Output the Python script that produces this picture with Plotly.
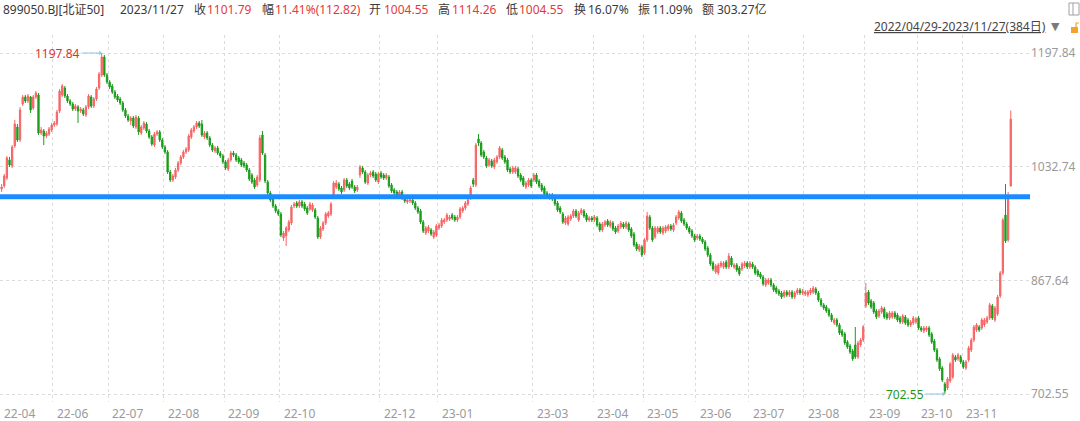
import plotly.graph_objects as go

# ---------------- data (899050.BJ 北证50, daily, 2022/04/29 - 2023/11/27) ----------------
opens = [
    # 2022-04 / 05
    1000.3, 1004.7, 1016.3, 1042.5, 1033.8, 1062.8, 1090.3, 1071.5, 1123.8, 1133.9,
    1128.1, 1133.9, 1118.0, 1133.9, 1136.8, 1081.6, 1084.5, 1077.3, 1080.2, 1086.0,
    # 2022-06
    1093.3, 1094.7, 1113.6, 1136.8, 1147.0, 1135.4, 1128.1, 1123.8, 1116.5, 1119.4,
    1113.6, 1115.1, 1107.8, 1119.4, 1133.9, 1120.9, 1131.0, 1147.0, 1165.9, 1192.0, 1165.9,
    # 2022-07
    1155.7, 1149.9, 1141.2, 1135.4, 1131.0, 1125.2, 1115.1, 1106.3, 1099.1, 1103.4,
    1090.3, 1103.4, 1081.6, 1088.9, 1094.7, 1084.5, 1075.9, 1064.2, 1080.2, 1083.1, 1071.5,
    # 2022-08
    1061.3, 1054.1, 1025.0, 1013.4, 1017.8, 1027.9, 1038.1, 1046.8, 1054.1, 1057.0,
    1075.9, 1084.5, 1090.3, 1096.2, 1094.7, 1075.9, 1081.6, 1074.4, 1064.2, 1055.5,
    1059.9, 1052.6, 1048.3,
    # 2022-09
    1039.6, 1029.4, 1042.5, 1052.6, 1049.7, 1045.4, 1042.5, 1038.1, 1035.2, 1027.9,
    1020.6, 1013.4, 1006.1, 1013.4, 1078.7, 1049.7, 1010.5, 994.5, 985.8, 975.6, 968.4,
    # 2022-10
    964.0, 929.2, 932.1, 940.8, 950.9, 975.6, 980.0, 975.6, 981.5, 978.5,
    972.7, 971.3, 969.8, 969.8, 958.2, 930.6,
    # 2022-11
    942.2, 950.9, 961.1, 964.0, 990.2, 1003.2, 1007.6, 1001.8, 998.9, 1013.4,
    1007.6, 1011.9, 1003.2, 998.9, 1020.6, 1030.9, 1025.0, 1009.0, 1020.6, 1025.0,
    1022.1, 1010.5,
    # 2022-12
    1023.5, 1020.6, 1016.3, 1017.7, 1006.1, 998.9, 996.0, 991.6, 996.0, 987.3,
    981.5, 982.9, 984.4, 980.0, 972.7, 968.4, 952.4, 936.4, 939.3, 940.8,
    930.6, 933.5,
    # 2023-01
    943.7, 946.6, 952.4, 955.3, 956.7, 962.5, 959.6, 955.3, 959.6, 968.4,
    972.7, 978.5, 987.3, 1013.4, 1006.1, 1073.0,
    # 2023-02
    1067.1, 1054.1, 1045.4, 1035.2, 1041.0, 1032.3, 1039.6, 1046.8, 1057.0, 1046.8,
    1042.5, 1029.4, 1025.0, 1025.0, 1029.4, 1020.6, 1016.3, 1003.2, 1006.1, 1013.4,
    # 2023-03
    1013.4, 1020.6, 1011.9, 1006.1, 1001.8, 994.5, 987.3, 991.6, 987.3, 980.0,
    972.7, 964.0, 950.9, 949.5, 956.7, 961.1, 968.4, 955.3, 965.5, 968.4,
    962.5, 955.3, 958.2,
    # 2023-04
    955.3, 958.2, 949.5, 940.8, 948.0, 953.8, 946.6, 950.9, 943.7, 939.3,
    945.1, 949.5, 945.1, 949.5, 942.2, 935.0, 920.5, 911.7, 916.1,
    # 2023-05
    907.4, 926.3, 959.6, 943.7, 930.6, 937.9, 943.7, 936.4, 939.3, 942.2,
    946.6, 940.8, 950.9, 958.2, 965.5, 955.3, 949.5, 943.7, 939.3, 932.1,
    # 2023-06
    929.2, 932.1, 927.7, 923.4, 914.6, 904.5, 892.8, 879.8, 878.4, 888.5,
    887.0, 894.3, 887.0, 900.1, 887.0, 890.0, 885.6, 884.1, 888.5, 892.8,
    # 2023-07
    887.0, 891.4, 887.0, 881.2, 876.9, 872.5, 860.9, 863.8, 868.2, 860.9,
    856.5, 852.2, 849.3, 844.9, 850.7, 846.4, 850.7, 843.5, 849.3, 853.6, 849.3,
    # 2023-08
    847.8, 846.4, 849.3, 850.7, 855.1, 849.3, 839.1, 831.9, 829.0, 824.6,
    817.3, 805.7, 810.1, 802.8, 794.1, 789.8, 778.1, 772.3, 765.1, 773.8,
    756.4, 773.8, 781.0,
    # 2023-09
    830.4, 850.7, 837.7, 834.8, 823.2, 815.9, 821.7, 826.1, 818.8, 813.0,
    814.4, 820.3, 817.3, 813.0, 807.2, 814.4, 810.1, 802.8, 805.7, 807.2,
    # 2023-10
    813.0, 798.5, 794.1, 795.6, 798.5, 789.8, 779.6, 766.5, 753.5, 740.4,
    717.1, 711.3, 721.5, 727.3, 756.4, 753.5, 756.4,
    # 2023-11
    749.1, 740.4, 752.0, 766.5, 781.0, 795.6, 799.9, 798.5, 802.8, 807.2,
    813.0, 830.4, 810.1, 818.8, 844.9, 878.4, 962.5, 926.3, 1004.55,
]

closes = [
    1003.2, 1019.2, 1045.4, 1035.2, 1061.3, 1094.7, 1071.5, 1115.1, 1133.9, 1128.1,
    1135.4, 1115.1, 1133.9, 1139.8, 1081.6, 1086.0, 1077.3, 1081.6, 1087.4, 1093.3,
    1096.2, 1112.2, 1142.7, 1149.9, 1135.4, 1128.1, 1123.8, 1116.5, 1120.9, 1113.6,
    1116.5, 1109.3, 1119.4, 1135.4, 1120.9, 1131.0, 1145.6, 1167.3, 1192.0, 1165.9, 1155.7,
    1148.5, 1141.2, 1133.9, 1129.6, 1125.2, 1115.1, 1106.3, 1100.5, 1103.4, 1091.8,
    1104.9, 1083.1, 1090.3, 1096.2, 1084.5, 1075.9, 1065.7, 1080.2, 1083.1, 1071.5, 1061.3,
    1054.1, 1025.0, 1013.4, 1019.2, 1027.9, 1038.1, 1046.8, 1054.1, 1058.4, 1077.3,
    1086.0, 1090.3, 1096.2, 1091.8, 1078.7, 1081.6, 1074.4, 1064.2, 1057.0, 1059.9,
    1052.6, 1048.3, 1039.6,
    1030.9, 1042.5, 1052.6, 1049.7, 1042.5, 1039.6, 1035.2, 1033.8, 1027.9, 1014.8,
    1010.5, 1003.2, 1017.7, 1074.4, 1052.6, 1011.9, 994.5, 984.4, 975.6, 968.4, 964.0,
    933.5, 936.4, 943.7, 952.4, 974.2, 978.5, 975.6, 981.5, 975.6, 971.3,
    965.5, 978.5, 977.1, 959.6, 930.6, 943.7,
    950.9, 964.0, 965.5, 978.5, 1009.0, 1009.0, 1000.3, 996.0, 1013.4, 1004.7,
    1001.8, 1003.2, 997.4, 1003.2, 1032.3, 1025.0, 1010.5, 1020.6, 1023.5, 1019.2,
    1013.4, 1022.1,
    1017.7, 1016.3, 1020.6, 1004.7, 997.4, 994.5, 991.6, 996.0, 987.3, 982.9,
    984.4, 984.4, 980.0, 972.7, 966.9, 952.4, 939.3, 943.7, 945.1, 935.0,
    937.9, 946.6,
    948.0, 955.3, 955.3, 962.5, 959.6, 958.2, 955.3, 959.6, 971.3, 972.7,
    980.0, 984.4, 1001.8, 1007.6, 1064.2, 1067.1,
    1049.7, 1046.8, 1033.8, 1042.5, 1033.8, 1042.5, 1046.8, 1059.9, 1045.4, 1039.6,
    1027.9, 1025.0, 1030.9, 1030.9, 1019.2, 1013.4, 1006.1, 1009.0, 1013.4, 1004.7,
    1020.6, 1010.5, 1004.7, 998.9, 993.1, 988.7, 991.6, 985.8, 978.5, 969.8,
    966.9, 952.4, 958.2, 959.6, 961.1, 968.4, 961.1, 965.5, 969.8, 961.1,
    955.3, 958.2, 955.3,
    959.6, 948.0, 940.8, 949.5, 952.4, 948.0, 952.4, 942.2, 937.9, 946.6,
    950.9, 945.1, 950.9, 940.8, 932.1, 919.0, 913.2, 917.6, 904.5,
    926.3, 961.1, 943.7, 926.3, 943.7, 943.7, 937.9, 943.7, 945.1, 946.6,
    942.2, 948.0, 959.6, 966.9, 953.8, 949.5, 943.7, 937.9, 932.1, 926.3,
    932.1, 927.7, 923.4, 913.2, 904.5, 891.4, 884.1, 888.5, 890.0, 892.8,
    892.8, 887.0, 903.0, 890.0, 890.0, 882.7, 876.9, 891.4, 892.8, 887.0,
    892.8, 887.0, 878.4, 875.4, 872.5, 862.4, 868.2, 868.2, 860.9, 853.6,
    850.7, 847.8, 843.5, 850.7, 846.4, 850.7, 843.5, 849.3, 853.6, 849.3, 852.2,
    850.7, 850.7, 853.6, 856.5, 849.3, 839.1, 831.9, 827.5, 823.2, 817.3,
    810.1, 810.1, 802.8, 791.2, 788.3, 776.7, 770.9, 763.6, 753.5, 756.4,
    776.7, 781.0, 799.9,
    849.3, 834.8, 829.0, 821.7, 814.4, 823.2, 827.5, 814.4, 813.0, 820.3,
    820.3, 814.4, 810.1, 807.2, 815.9, 805.7, 802.8, 807.2, 813.0, 811.5,
    798.5, 795.6, 798.5, 798.5, 788.3, 778.1, 766.5, 752.0, 739.0, 722.9,
    706.9, 724.4, 746.2, 759.3, 752.0, 759.3, 749.1,
    741.9, 749.1, 769.4, 781.0, 799.9, 802.8, 795.6, 810.1, 810.1, 813.0,
    831.9, 813.0, 827.5, 843.5, 878.4, 955.3, 924.8, 988.97, 1101.79,
]

highs = [
    1007.6, 1022.1, 1048.3, 1046.8, 1064.2, 1100.5, 1094.7, 1119.4, 1136.8, 1136.8,
    1138.3, 1135.4, 1136.8, 1142.7, 1139.8, 1090.4, 1087.4, 1084.5, 1090.4, 1096.2,
    1099.1, 1115.1, 1145.6, 1152.8, 1149.9, 1138.3, 1131.0, 1126.7, 1123.8, 1122.3,
    1119.4, 1118.0, 1122.3, 1138.3, 1136.8, 1133.9, 1148.5, 1170.3, 1197.84, 1194.9, 1168.8,
    1158.6, 1152.8, 1144.1, 1138.3, 1133.9, 1128.1, 1118.0, 1109.3, 1106.3, 1106.3,
    1107.8, 1106.3, 1093.3, 1099.1, 1097.6, 1087.4, 1078.7, 1083.1, 1086.0, 1086.0, 1074.4,
    1064.2, 1057.0, 1027.9, 1022.1, 1030.9, 1041.0, 1049.7, 1057.0, 1061.3, 1080.2,
    1088.9, 1093.3, 1099.1, 1099.1, 1100.5, 1084.5, 1084.5, 1077.3, 1067.1, 1062.8,
    1062.8, 1055.5, 1051.1,
    1042.5, 1045.4, 1055.5, 1055.5, 1052.6, 1048.3, 1045.4, 1041.0, 1038.1, 1030.9,
    1023.5, 1016.3, 1020.6, 1078.7, 1084.5, 1052.6, 1013.4, 997.4, 988.7, 978.5, 971.3,
    966.9, 939.3, 946.6, 955.3, 977.1, 981.5, 982.9, 984.4, 984.4, 981.5,
    975.6, 981.5, 980.0, 972.7, 961.1, 946.6,
    953.8, 966.9, 968.4, 981.5, 1011.9, 1013.4, 1010.5, 1004.7, 1016.3, 1016.3,
    1010.5, 1014.8, 1006.1, 1006.1, 1035.2, 1033.8, 1027.9, 1023.5, 1026.5, 1027.9,
    1025.0, 1025.0,
    1026.5, 1023.5, 1023.5, 1020.6, 1009.0, 1001.8, 998.9, 998.9, 998.9, 990.2,
    987.3, 987.3, 987.3, 982.9, 975.6, 971.3, 955.3, 946.6, 948.0, 943.7,
    940.8, 949.5,
    950.9, 958.2, 958.2, 965.5, 962.5, 965.5, 962.5, 962.5, 974.2, 975.6,
    982.9, 987.3, 1004.7, 1016.3, 1067.1, 1080.2,
    1070.0, 1057.0, 1048.3, 1045.4, 1043.9, 1045.4, 1049.7, 1062.8, 1059.9, 1049.7,
    1045.4, 1032.3, 1033.8, 1033.8, 1032.3, 1023.5, 1019.2, 1011.9, 1016.3, 1016.3,
    1023.5, 1023.5, 1014.8, 1009.0, 1004.7, 997.4, 994.5, 994.5, 990.2, 982.9,
    975.6, 966.9, 961.1, 962.5, 964.0, 971.3, 971.3, 968.4, 972.7, 971.3,
    965.5, 961.1, 961.1,
    962.5, 961.1, 952.4, 952.4, 955.3, 956.7, 955.3, 953.8, 946.6, 949.5,
    953.8, 952.4, 953.8, 952.4, 945.1, 937.9, 923.4, 920.5, 919.0,
    929.2, 966.9, 962.5, 946.6, 946.6, 946.6, 946.6, 946.6, 948.0, 949.5,
    949.5, 950.9, 962.5, 969.8, 968.4, 958.2, 952.4, 946.6, 942.2, 935.0,
    935.0, 935.0, 930.6, 926.3, 917.6, 907.4, 895.7, 891.4, 892.8, 895.7,
    895.7, 897.2, 907.4, 903.0, 892.8, 892.8, 888.5, 894.3, 895.7, 895.7,
    895.7, 894.3, 890.0, 884.1, 879.8, 875.4, 871.1, 871.1, 871.1, 863.8,
    859.5, 855.1, 852.2, 853.6, 853.6, 853.6, 853.6, 852.2, 856.5, 856.5, 855.1,
    853.6, 853.6, 856.5, 859.5, 858.0, 852.2, 842.0, 834.8, 831.9, 827.5,
    820.3, 813.0, 813.0, 805.7, 797.0, 792.7, 781.0, 775.2, 768.0, 799.9,
    779.6, 783.9, 802.8,
    863.8, 853.6, 840.6, 837.7, 826.1, 826.1, 830.4, 829.0, 821.7, 823.2,
    823.2, 823.2, 820.3, 815.9, 818.8, 817.3, 813.0, 810.1, 815.9, 814.4,
    815.9, 801.4, 801.4, 801.4, 801.4, 792.7, 782.5, 769.4, 756.4, 743.3,
    720.0, 727.3, 749.1, 762.2, 759.3, 762.2, 759.3,
    752.0, 752.0, 772.3, 783.9, 802.8, 805.7, 802.8, 813.0, 813.0, 815.9,
    834.8, 833.3, 830.4, 846.4, 881.2, 958.2, 1007.6, 996.0, 1114.26,
]

lows = [
    996.0, 1001.8, 1013.4, 1032.3, 1030.9, 1059.9, 1068.6, 1068.6, 1120.9, 1125.2,
    1125.2, 1110.7, 1115.1, 1131.0, 1078.7, 1078.7, 1064.2, 1074.4, 1077.3, 1083.1,
    1090.4, 1091.8, 1110.7, 1133.9, 1132.5, 1125.2, 1120.9, 1113.6, 1113.6, 1096.2,
    1110.7, 1106.3, 1104.9, 1116.5, 1118.0, 1118.0, 1128.1, 1144.1, 1163.0, 1163.0, 1152.8,
    1145.5, 1138.3, 1131.0, 1126.7, 1122.3, 1112.2, 1103.4, 1097.6, 1093.3, 1088.9,
    1087.4, 1078.7, 1078.7, 1086.0, 1081.6, 1073.0, 1062.8, 1061.3, 1077.3, 1068.6, 1058.4,
    1051.1, 1022.1, 1010.5, 1010.5, 1014.8, 1025.0, 1035.2, 1043.9, 1051.1, 1054.1,
    1073.0, 1081.6, 1087.4, 1088.9, 1075.9, 1073.0, 1071.5, 1061.3, 1054.1, 1052.6,
    1049.7, 1045.4, 1036.7,
    1027.9, 1026.5, 1039.6, 1046.8, 1039.6, 1036.7, 1032.3, 1030.9, 1025.0, 1011.9,
    1007.6, 1000.3, 1003.2, 1010.5, 1049.7, 1009.0, 991.6, 981.5, 972.7, 965.5, 961.1,
    930.6, 924.8, 917.6, 937.9, 948.0, 972.7, 972.7, 972.7, 972.7, 968.4,
    962.5, 968.4, 966.9, 956.7, 927.7, 927.7,
    939.3, 948.0, 958.2, 961.1, 987.3, 1000.3, 997.4, 993.1, 996.0, 1001.8,
    998.9, 1000.3, 994.5, 996.0, 1016.3, 1022.1, 1007.6, 1006.1, 1017.7, 1016.3,
    1010.5, 1007.6,
    1014.8, 1013.4, 1013.4, 1001.8, 994.5, 991.6, 988.7, 988.7, 984.4, 980.0,
    978.5, 980.0, 977.1, 969.8, 964.0, 949.5, 936.4, 933.5, 936.4, 932.1,
    927.7, 930.6,
    940.8, 943.7, 949.5, 952.4, 953.8, 955.3, 952.4, 952.4, 956.7, 965.5,
    969.8, 975.6, 984.4, 1003.2, 1003.2, 1062.8,
    1046.8, 1043.9, 1030.9, 1032.3, 1030.9, 1029.4, 1036.7, 1043.9, 1042.5, 1036.7,
    1025.0, 1022.1, 1022.1, 1022.1, 1016.3, 1010.5, 1003.2, 1000.3, 1003.2, 1001.8,
    1010.5, 1007.6, 1001.8, 996.0, 990.2, 985.8, 984.4, 982.9, 975.6, 966.9,
    964.0, 949.5, 948.0, 946.6, 953.8, 958.2, 958.2, 952.4, 962.5, 958.2,
    952.4, 952.4, 952.4,
    952.4, 945.1, 937.9, 937.9, 945.1, 945.1, 943.7, 939.3, 935.0, 936.4,
    942.2, 942.2, 942.2, 937.9, 929.2, 916.1, 910.3, 908.8, 901.6,
    904.5, 923.4, 940.8, 923.4, 927.7, 935.0, 935.0, 933.5, 936.4, 939.3,
    939.3, 937.9, 948.0, 955.3, 950.9, 946.6, 940.8, 935.0, 929.2, 923.4,
    926.3, 924.8, 920.5, 910.3, 901.6, 888.5, 881.2, 876.9, 875.4, 885.6,
    884.1, 884.1, 884.1, 887.0, 884.1, 879.8, 874.0, 881.2, 885.6, 884.1,
    884.1, 884.1, 875.4, 872.5, 869.6, 859.5, 858.0, 860.9, 858.0, 850.7,
    847.8, 844.9, 840.6, 842.0, 843.5, 843.5, 840.6, 840.6, 846.4, 846.4, 846.4,
    844.9, 843.5, 846.4, 847.8, 846.4, 836.2, 829.0, 824.6, 820.3, 814.4,
    807.2, 802.8, 799.9, 788.3, 785.4, 773.8, 768.0, 760.7, 750.6, 753.5,
    753.5, 770.9, 778.1,
    827.5, 831.9, 826.1, 818.8, 811.5, 813.0, 818.8, 811.5, 810.1, 810.1,
    811.5, 811.5, 807.2, 804.3, 804.3, 802.8, 799.9, 799.9, 802.8, 804.3,
    795.6, 792.7, 791.2, 792.7, 785.4, 775.2, 763.6, 749.1, 736.0, 720.0,
    702.55, 708.4, 718.6, 724.4, 749.1, 750.6, 746.2,
    739.0, 737.5, 749.1, 763.6, 778.1, 792.7, 792.7, 795.6, 799.9, 804.3,
    810.1, 810.1, 807.2, 815.9, 842.0, 875.4, 921.9, 923.4, 1004.55,
]

n = len(closes)
assert len(opens) == n and len(highs) == n and len(lows) == n == 384
days = list(range(n))

# month labels and the trading-day index where each month starts
month_labels = ["22-04", "22-06", "22-07", "22-08", "22-09", "22-10", "22-12", "23-01",
                "23-03", "23-04", "23-05", "23-06", "23-07", "23-08", "23-09", "23-10", "23-11"]
month_start = [0, 20, 41, 62, 85, 106, 144, 166, 202, 225, 244, 264, 284, 305, 328, 348, 365]

y_ticks = [702.55, 867.64, 1032.74, 1197.84]
y_ticktext = ["702.55", "867.64", "1032.74", "1197.84"]

header_keys = ["收", "幅", "开", "高", "低", "换", "振", "额"]
header_vals = ["1101.79", "11.41%(112.82)", "1004.55", "1114.26", "1004.55", "16.07%", "11.09%", "303.27亿"]
header_red = [True, True, True, True, True, False, False, False]

# ---------------- style ----------------
UP = "#f76565"
DOWN = "#1b9c1b"
RED_TXT = "#e4393c"
DARK = "#3a3a3a"
GRID = "#dcdcdc"
AXIS_TXT = "#9a9a9a"
FONT = "Noto Sans, Noto Sans CJK SC, sans-serif"

W, H = 1080, 421
ML, MR, MT, MB = 0, 50, 35, 19
PW = W - ML - MR
PH = H - MT - MB


def px(xp):
    return (xp - ML) / PW


def py(yp):
    return (H - MB - yp) / PH


fig = go.Figure()
fig.add_trace(go.Candlestick(
    x=days, open=opens, high=highs, low=lows, close=closes,
    increasing=dict(line=dict(color=UP, width=1), fillcolor=UP),
    decreasing=dict(line=dict(color=DOWN, width=1), fillcolor=DOWN),
    whiskerwidth=0, hoverinfo="skip", showlegend=False,
))

# previous close reference line
prev_close = closes[-2]
fig.add_shape(type="line", xref="paper", x0=0, x1=1, yref="y", y0=prev_close, y1=prev_close,
              line=dict(color="#1a8cff", width=5), layer="above")

annotations = []
# month labels (left aligned at month grid line)
for lab, i in zip(month_labels, month_start):
    annotations.append(dict(x=i - 0.5, y=0, xref="x", yref="paper", text=lab, showarrow=False,
                            xanchor="left", yanchor="top", xshift=2, yshift=-1,
                            font=dict(size=12, color=AXIS_TXT, family=FONT)))

# max / min markers
imax = max(range(n), key=lambda k: highs[k])
imin = min(range(n), key=lambda k: lows[k])
annotations.append(dict(x=imax, y=highs[imax], xref="x", yref="y", text=f"{highs[imax]:.2f}",
                        showarrow=True, ax=-44, ay=0, arrowhead=1, arrowsize=0.8, arrowwidth=1,
                        arrowcolor="#8ec3e6", font=dict(size=12, color="#d9342f", family=FONT)))
annotations.append(dict(x=imin, y=lows[imin], xref="x", yref="y", text=f"{lows[imin]:.2f}",
                        showarrow=True, ax=-40, ay=0, arrowhead=1, arrowsize=0.8, arrowwidth=1,
                        arrowcolor="#8ec3e6", font=dict(size=12, color="#1a9a1a", family=FONT)))

# header line
hy = py(9)
annotations.append(dict(x=px(1), y=hy, xref="paper", yref="paper", text="899050.BJ[北证50]",
                        showarrow=False, xanchor="left", yanchor="middle",
                        font=dict(size=12, color=DARK, family=FONT)))
annotations.append(dict(x=px(118), y=hy, xref="paper", yref="paper", text="2023/11/27",
                        showarrow=False, xanchor="left", yanchor="middle",
                        font=dict(size=12, color=DARK, family=FONT)))
key_x = [192, 260, 367, 436, 504, 572, 636, 700]
val_x = [205, 273, 382, 450, 517, 586, 650, 715]
for k, v, red, kx, vx in zip(header_keys, header_vals, header_red, key_x, val_x):
    annotations.append(dict(x=px(kx), y=hy, xref="paper", yref="paper", text=k, showarrow=False,
                            xanchor="left", yanchor="middle",
                            font=dict(size=12, color=DARK, family=FONT)))
    annotations.append(dict(x=px(vx), y=hy, xref="paper", yref="paper", text=v, showarrow=False,
                            xanchor="left", yanchor="middle",
                            font=dict(size=12, color=RED_TXT if red else DARK, family=FONT)))

# date range line
annotations.append(dict(x=px(1048), y=py(27), xref="paper", yref="paper",
                        text="<u>2022/04/29-2023/11/27(384日)</u>", showarrow=False,
                        xanchor="right", yanchor="middle",
                        font=dict(size=12, color="#444444", family=FONT)))
annotations.append(dict(x=px(1049), y=py(27), xref="paper", yref="paper", text="▼",
                        showarrow=False, xanchor="left", yanchor="middle",
                        font=dict(size=11, color="#7a7a7a", family="DejaVu Sans")))

shapes = [
    # small panel icon (top right)
    dict(type="rect", xref="paper", yref="paper", x0=px(1069), x1=px(1079), y0=py(15), y1=py(3),
         line=dict(color="#a0a0a0", width=1), fillcolor="rgba(0,0,0,0)"),
    dict(type="line", xref="paper", yref="paper", x0=px(1073), x1=px(1073), y0=py(15), y1=py(3),
         line=dict(color="#a0a0a0", width=1)),
    # lock icon
    dict(type="rect", xref="paper", yref="paper", x0=px(1071), x1=px(1078), y0=py(33), y1=py(27),
         line=dict(width=0), fillcolor="#f2a42a"),
    dict(type="path", xref="paper", yref="paper",
         path=f"M {px(1076)} {py(27)} L {px(1076)} {py(23)} L {px(1079)} {py(23)}",
         line=dict(color="#f2a42a", width=1.2)),
]

fig.update_layout(
    width=W, height=H,
    margin=dict(l=ML, r=MR, t=MT, b=MB),
    paper_bgcolor="white", plot_bgcolor="white",
    showlegend=False,
    annotations=annotations,
    shapes=fig.layout.shapes + tuple(shapes),
    xaxis=dict(range=[-0.61, 390.3], tickvals=[i - 0.5 for i in month_start[1:]],
               showticklabels=False, ticks="", showgrid=True, gridcolor=GRID, griddash="dot",
               gridwidth=1, zeroline=False, showline=False, rangeslider=dict(visible=False),
               fixedrange=True),
    yaxis=dict(range=[690.93, 1223.98], side="right", tickvals=y_ticks, ticktext=y_ticktext,
               tickfont=dict(size=12, color=AXIS_TXT, family=FONT), ticks="",
               showgrid=True, gridcolor=GRID, griddash="dot", gridwidth=1,
               zeroline=False, showline=False, fixedrange=True),
)

# the page's default body margin would shift the figure; remove it
fig.write_html("out.html", config={"displayModeBar": False},
               post_script="document.body.style.margin='0px';document.body.style.overflow='hidden';")
